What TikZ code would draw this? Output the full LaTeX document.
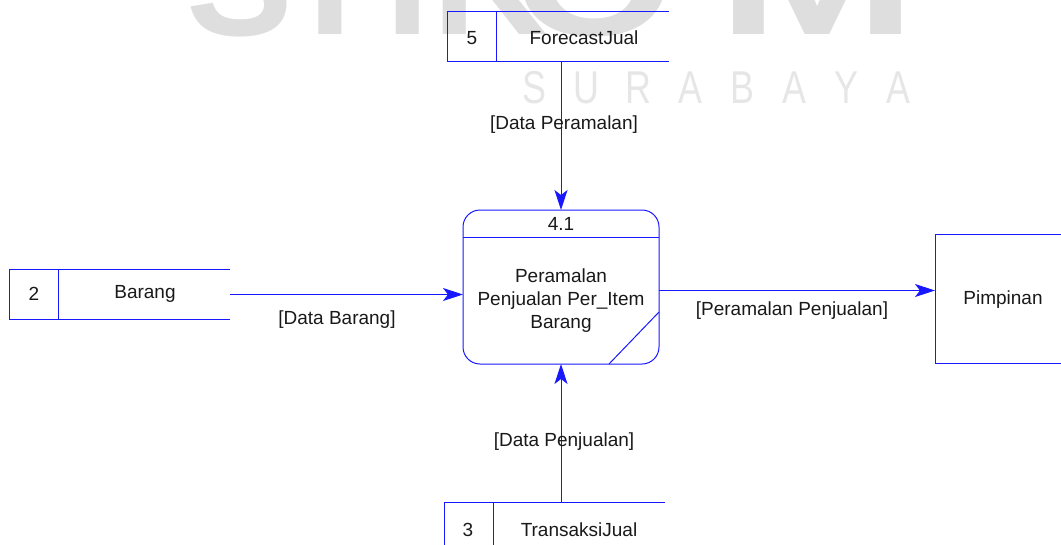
\documentclass[tikz,border=0pt]{standalone}
\usepackage{fontspec}
\setmainfont{Liberation Sans}
\newfontfamily\thinfont[FakeStretch=0.78]{Liberation Sans}
\usetikzlibrary{arrows.meta,calc}
\definecolor{dfdblue}{RGB}{24,24,255}
\definecolor{markgray}{RGB}{222,222,222}
\definecolor{citygray}{RGB}{230,230,230}
\begin{document}
\begin{tikzpicture}[x=1pt,y=-1pt,
  every node/.style={inner sep=0pt, outer sep=0pt},
  txt/.style={font=\fontsize{19}{23}\selectfont, text=black!90, align=center},
  edge/.style={draw=dfdblue, line width=1pt},
  flow/.style={edge, -{Stealth[length=20pt,width=13pt,inset=5pt]}},
  store/.style={minimum width=221pt, minimum height=50pt},
  proc/.style={draw=dfdblue, line width=1pt, rounded corners=17pt,
               minimum width=196pt, minimum height=154pt},
  entity/.style={draw=dfdblue, line width=1pt, minimum width=170pt, minimum height=129pt},
  bigmark/.style={font=\fontsize{160}{160}\selectfont\bfseries, text=markgray, anchor=base},
  citymark/.style={font=\thinfont\fontsize{46}{46}\selectfont, text=citygray, anchor=base}
]
\useasboundingbox (0,0) rectangle (1061,544);
\clip (0,0) rectangle (1061,544);

% background logo lettering
\node[bigmark] (wmS) at (240,35) {S};
\node[bigmark] (wmT) at (330,34) {T};
\node[bigmark] (wmI) at (408,34) {I};
\node[bigmark] (wmK) at (490,34) {K};
\node[bigmark] (wmO) at (594,35) {\scalebox{1.3}[1]{O}};
\node[bigmark] (wmM) at (817,34) {\scalebox{1.5}[1]{M}};
\foreach \ch [count=\i] in {S,U,R,A,B,A,Y,A}
  \node[citymark] (wc\i) at ({482+52*\i},103) {\ch};

% data store 5: ForecastJual
\node[store] (s5) at (558,36) {};
\draw[edge] (s5.north east) -- (s5.north west) -- (s5.south west) -- (s5.south east);
\draw[edge] ($(s5.north west)+(49,0)$) -- ($(s5.south west)+(49,0)$);
\node[txt] (s5id) at (472,38) {5};
\node[txt] (s5name) at (584,38) {ForecastJual};

% data store 2: Barang
\node[store] (s2) at (119.5,294.5) {};
\draw[edge] (s2.north east) -- (s2.north west) -- (s2.south west) -- (s2.south east);
\draw[edge] ($(s2.north west)+(49,0)$) -- ($(s2.south west)+(49,0)$);
\node[txt] (s2id) at (34,294) {2};
\node[txt] (s2name) at (145,294) {Barang};

% data store 3: TransaksiJual
\node[store] (s3) at (554.5,527) {};
\draw[edge] (s3.north east) -- (s3.north west) -- (s3.south west) -- (s3.south east);
\draw[edge] ($(s3.north west)+(49,0)$) -- ($(s3.south west)+(49,0)$);
\node[txt] (s3id) at (468,530) {3};
\node[txt] (s3name) at (579,530) {TransaksiJual};

% process 4.1
\node[proc] (p) at (561,287) {};
\draw[edge] ($(p.north west)+(0,27)$) -- ($(p.north east)+(0,27)$);
\draw[edge] ($(p.south east)+(-50,0)$) -- ($(p.south east)+(0,-52)$);
\node[txt] (pid) at (561,224) {4.1};
\node[txt] (pname) at (561,301) {Peramalan\\Penjualan Per\_Item\\Barang};

% external entity
\node[entity] (pim) at (1020,298.5) {};
\node[txt] (pimname) at (1003,300) {Pimpinan};

% data flows
\draw[flow] (s5.south -| p.north) -- (p.north);
\draw[flow] (s2.east) -- (s2.east -| p.west);
\draw[flow] ([yshift=-3.5pt]p.east) -- ([yshift=-3.5pt]p.east -| pim.west);
\draw[flow] (s3.north -| p.south) -- (p.south);

% flow labels
\node[txt] (lf1) at (564,125) {[Data Peramalan]};
\node[txt] (lf2) at (337,320) {[Data Barang]};
\node[txt] (lf3) at (792,311) {[Peramalan Penjualan]};
\node[txt] (lf4) at (564,442) {[Data Penjualan]};
\end{tikzpicture}
\end{document}
